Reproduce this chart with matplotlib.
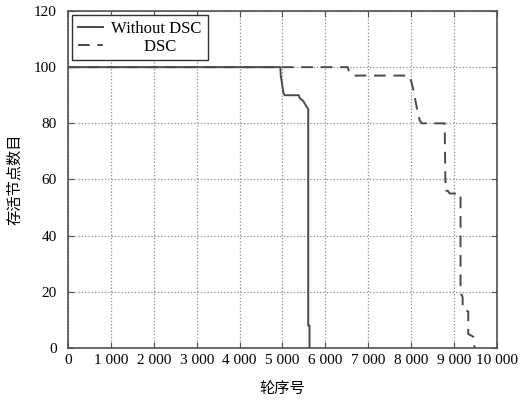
import matplotlib
matplotlib.use('Agg')
import matplotlib.pyplot as plt
from matplotlib.ticker import FuncFormatter

# survival curve without DSC (round number, alive nodes)
rounds_no_dsc = [0, 4950, 4960, 4980, 5000, 5020, 5050, 5380, 5400, 5480,
                 5520, 5560, 5600, 5600, 5630, 5630]
alive_no_dsc = [100, 100, 97, 95, 93, 91, 90, 90, 89, 88,
                87, 86, 85, 8, 8, 0]

# survival curve with DSC
rounds_dsc = [0, 6520, 6560, 6650, 7950, 8000, 8050, 8100, 8150, 8200,
              8250, 8780, 8800, 8850, 8900, 9150, 9150, 9200, 9200, 9330,
              9330, 9450, 9480]
alive_dsc = [100, 100, 98, 97, 97, 95, 92, 88, 84, 81,
             80, 80, 56, 56, 55, 55, 20, 18, 14, 13,
             5, 4, 0]

series_labels = ['Without DSC', '        DSC']
x_ticks = list(range(0, 10001, 1000))
y_ticks = list(range(0, 121, 20))

serif = ['Liberation Serif', 'DejaVu Serif']
cjk = ['Noto Sans CJK SC', 'DejaVu Sans']

fig = plt.figure(figsize=(5.3, 4.01), dpi=100)
ax = fig.add_axes([0.1283, 0.1322, 0.8094, 0.8404])

line_color = '#4a4a4a'
ax.plot(rounds_no_dsc, alive_no_dsc, color=line_color, lw=1.4, ls='-',
        label=series_labels[0])
ax.plot(rounds_dsc, alive_dsc, color=line_color, lw=1.4, ls=(0, (6, 4)),
        label=series_labels[1])

ax.set_xlim(0, 10000)
ax.set_ylim(0, 120)
ax.set_xticks(x_ticks)
ax.set_yticks(y_ticks)
ax.xaxis.set_major_formatter(FuncFormatter(lambda v, p: f'{int(v):,}'.replace(',', ' ')))

ax.grid(True, ls=':', color='#8c8c8c', lw=0.9)
ax.tick_params(direction='in', top=True, right=True, length=4, width=0.8,
               color='#505050', labelsize=11)
ax.tick_params(axis='x', pad=4)
ax.tick_params(axis='y', pad=8)
for lab in ax.get_xticklabels() + ax.get_yticklabels():
    lab.set_family(serif)
for sp in ax.spines.values():
    sp.set_color('#505050')
    sp.set_linewidth(1.2)

ax.set_xlabel('轮序号', family=cjk, fontsize=11, labelpad=10)
ax.set_ylabel('存活节点数目', family=cjk, fontsize=11, labelpad=8)

leg = ax.legend(loc='upper left', prop={'family': serif, 'size': 12},
                fancybox=False, framealpha=1, edgecolor='#303030',
                borderaxespad=0.25, handlelength=1.5, handletextpad=0.5,
                borderpad=0.35, labelspacing=0.1)
leg.get_frame().set_linewidth(1.0)

fig.savefig('out.png', dpi=100)
